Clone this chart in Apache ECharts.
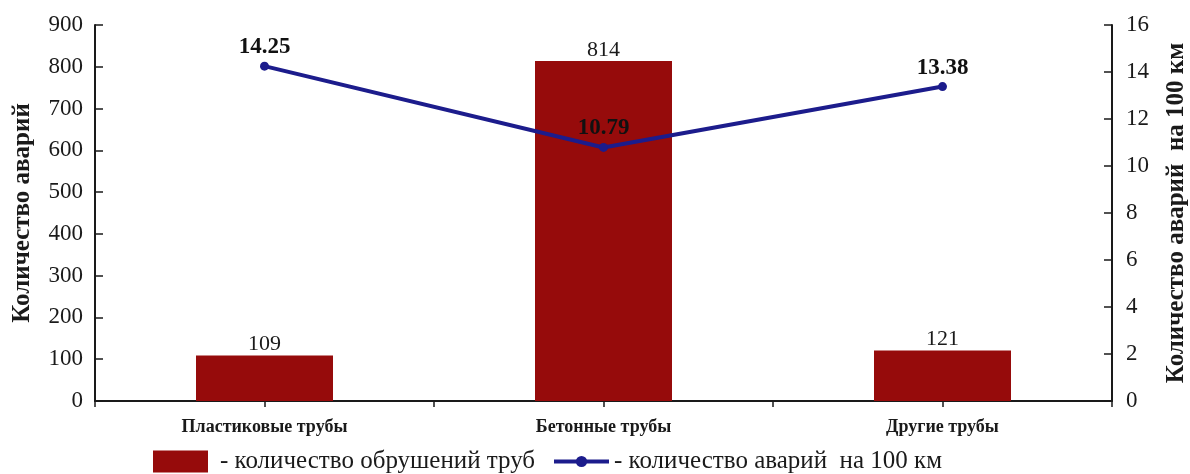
<!DOCTYPE html>
<html>
<head>
<meta charset="utf-8">
<script src="https://cdn.jsdelivr.net/npm/echarts@6/dist/echarts.min.js"></script>
<style>
  html, body { margin: 0; padding: 0; background: #ffffff; }
  #chart { width: 1190px; height: 474px; }
</style>
</head>
<body>
<div id="chart"></div>
<script>
// Pipe types along the x axis
const categories = ['Пластиковые трубы', 'Бетонные трубы', 'Другие трубы'];
// Number of pipe collapses (left axis)
const collapses = [109, 814, 121];
// Accidents per 100 km (right axis)
const accidentsPer100km = [14.25, 10.79, 13.38];
// Axis tick settings
const leftTicks = { min: 0, max: 900, interval: 100 };
const rightTicks = { min: 0, max: 16, interval: 2 };

const barName = 'количество обрушений труб';
const lineName = 'количество аварий  на 100 км';

const serif = '"Liberation Serif", "Times New Roman", serif';
const ink = '#1a1a1a';
const barColor = '#960b0b';
const lineColor = '#1c1c8c';

const chart = echarts.init(document.getElementById('chart'));
chart.setOption({
  backgroundColor: '#ffffff',
  animation: false,
  textStyle: { fontFamily: serif, color: ink },
  grid: { left: 95, right: 78, top: 25, bottom: 73, containLabel: false, outerBoundsMode: 'none' },
  legend: [
    {
      data: [{ name: barName, icon: 'rect' }],
      left: 148, top: 444,
      itemWidth: 55, itemHeight: 22, itemGap: 6,
      formatter: '- {name}',
      textStyle: { fontFamily: serif, fontSize: 25, color: ink, padding: [0, 0, 0, 7] },
      selectedMode: false
    },
    {
      data: [lineName],
      left: 547, top: 444,
      itemWidth: 55, itemHeight: 14, itemGap: 6,
      formatter: '- {name}',
      lineStyle: { width: 4 },
      textStyle: { fontFamily: serif, fontSize: 25, color: ink },
      selectedMode: false
    }
  ],
  xAxis: [
    {
      type: 'category',
      data: categories,
      position: 'bottom',
      axisLine: { lineStyle: { color: ink, width: 2 } },
      axisTick: { show: true, alignWithLabel: false, length: 6, lineStyle: { color: ink, width: 1.5 } },
      axisLabel: { fontFamily: serif, fontWeight: 'bold', fontSize: 18, color: ink, margin: 17 }
    },
    {
      type: 'category',
      data: categories,
      position: 'bottom',
      axisLine: { show: false },
      axisTick: { show: true, alignWithLabel: true, length: 6, lineStyle: { color: ink, width: 1.5 } },
      axisLabel: { show: false },
      splitLine: { show: false }
    }
  ],
  yAxis: [
    {
      type: 'value',
      min: leftTicks.min, max: leftTicks.max, interval: leftTicks.interval,
      name: 'Количество аварий',
      nameLocation: 'middle',
      nameRotate: 90,
      nameGap: 60,
      nameTextStyle: { fontFamily: serif, fontWeight: 'bold', fontSize: 25, color: ink },
      axisLine: { show: true, lineStyle: { color: ink, width: 2 } },
      axisTick: { show: true, inside: true, length: 8, lineStyle: { color: ink, width: 1.5 } },
      axisLabel: { fontFamily: serif, fontSize: 23, color: ink, margin: 12 },
      splitLine: { show: false }
    },
    {
      type: 'value',
      position: 'right',
      min: rightTicks.min, max: rightTicks.max, interval: rightTicks.interval,
      name: 'Количество аварий  на 100 км',
      nameLocation: 'middle',
      nameRotate: 90,
      nameGap: 52,
      nameTextStyle: { fontFamily: serif, fontWeight: 'bold', fontSize: 25, color: ink },
      axisLine: { show: true, lineStyle: { color: ink, width: 2 } },
      axisTick: { show: true, inside: true, length: 8, lineStyle: { color: ink, width: 1.5 } },
      axisLabel: { fontFamily: serif, fontSize: 23, color: ink, margin: 14 },
      splitLine: { show: false }
    }
  ],
  series: [
    {
      name: barName,
      type: 'bar',
      xAxisIndex: 0,
      yAxisIndex: 0,
      data: collapses,
      barWidth: 137,
      itemStyle: { color: barColor },
      label: {
        show: true, position: 'top', distance: 0,
        fontFamily: serif, fontSize: 22, color: ink
      }
    },
    {
      name: lineName,
      type: 'line',
      xAxisIndex: 0,
      yAxisIndex: 1,
      data: accidentsPer100km,
      symbol: 'circle',
      symbolSize: 9,
      lineStyle: { color: lineColor, width: 4 },
      itemStyle: { color: lineColor },
      label: {
        show: true, position: 'top', distance: 3,
        fontFamily: serif, fontWeight: 'bold', fontSize: 23, color: '#111111',
        formatter: (p) => p.value.toFixed(2)
      },
      z: 5
    }
  ]
});
</script>
</body>
</html>
